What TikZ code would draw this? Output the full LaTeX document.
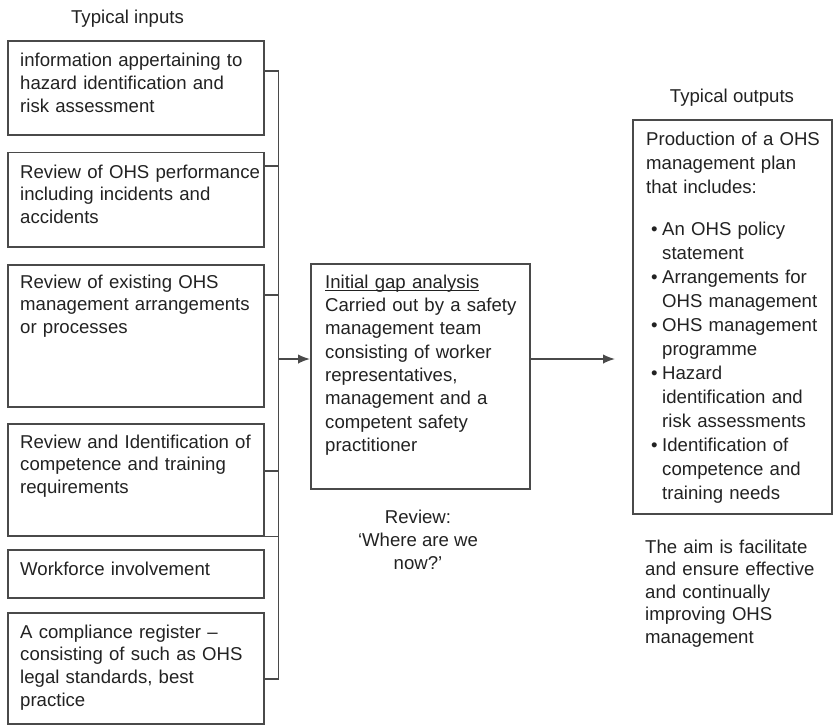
\documentclass[tikz,border=0pt]{standalone}
\usepackage{fontspec}
\setmainfont{Liberation Sans}
\usetikzlibrary{arrows.meta}
\definecolor{ink}{HTML}{222222}
\definecolor{rule}{HTML}{4A4A4A}
% underline set close to the baseline, through the descenders
\newcommand\ulbase[1]{\setbox0\hbox{#1}\rlap{\rule[-2.8pt]{\wd0}{1.1pt}}\box0}
\begin{document}
\begin{tikzpicture}[x=1pt,y=-1pt,
  box/.style={draw=rule, line width=1.6pt, fill=white, anchor=north west, inner sep=0pt, minimum width=256pt},
  wire/.style={draw=rule, line width=1.6pt},
  arr/.style={wire, -{Latex[length=12pt,width=9.5pt]}},
  txt/.style={anchor=north west, inner sep=0pt, align=left, text=ink},
  lefttxt/.style={txt, text width=250pt, font=\fontsize{18.6}{22.8}\selectfont},
  midtxt/.style={txt, text width=210pt, font=\fontsize{18.6}{23.3}\selectfont},
  righttxt/.style={txt, text width=190pt, font=\fontsize{18.6}{24}\selectfont},
  title/.style={anchor=base, inner sep=0pt, text=ink, font=\fontsize{18.6}{22.8}\selectfont}]
\useasboundingbox (0,0) rectangle (834,726);

% column headings
\node[title] (tin) at (127.5,23) {Typical inputs};
\node[title] (tout) at (732,102.7) {Typical outputs};

% input boxes
\node[box, minimum height=94pt]  (b1) at (7,40) {};
\node[box, minimum height=94.5pt] (b2) at (7,151.5) {};
\node[box, minimum height=142pt] (b3) at (7,264) {};
\node[box, minimum height=112pt] (b4) at (7,423) {};
\node[box, minimum height=48pt]  (b5) at (7,549) {};
\node[box, minimum height=111pt] (b6) at (7,612) {};

\node[lefttxt] (t1) at (20,50.7) {\strut information appertaining to\\hazard identification and\\risk assessment};
\node[lefttxt] (t2) at (20,162) {\strut Review of OHS performance\\including incidents and\\accidents};
\node[lefttxt] (t3) at (20,272) {\strut Review of existing OHS\\management arrangements\\or processes};
\node[lefttxt] (t4) at (20,432) {\strut Review and Identification of\\competence and training\\requirements};
\node[lefttxt] (t5) at (20,559) {\strut Workforce involvement};
\node[lefttxt] (t6) at (20,622) {\strut A compliance register –\\consisting of such as OHS\\legal standards, best\\practice};

% collecting bus
\coordinate (bustop) at (278.5,71);
\coordinate (busbot) at (278.5,679);
\coordinate (busmid) at (278.5,359);
\draw[wire] (bustop) -- (busbot);
\draw[wire] ([yshift=-31pt]b1.north east) coordinate (k1) -- (k1 -| bustop);
\draw[wire] ([yshift=-14.5pt]b2.north east) coordinate (k2) -- (k2 -| bustop);
\draw[wire] ([yshift=-31pt]b3.north east) coordinate (k3) -- (k3 -| bustop);
\draw[wire] ([yshift=-48pt]b4.north east) coordinate (k4) -- (k4 -| bustop);
\draw[wire] (b4.south east) -- (b4.south east -| bustop);
\draw[wire] ([yshift=-67pt]b6.north east) coordinate (k6) -- (k6 -| bustop);

% gap analysis box
\node[box, minimum width=219pt, minimum height=225pt] (c) at (310,263) {};
\node[midtxt] (ct) at (325,271.7) {\strut\ulbase{Initial gap analysis}\\Carried out by a safety\\management team\\consisting of worker\\representatives,\\management and a\\competent safety\\practitioner};
\node[anchor=north, inner sep=0pt, align=center, text=ink, font=\fontsize{18.6}{23}\selectfont] (rev) at (418,506.9) {\strut Review:\\‘Where are we\\now?’};

\draw[arr] (busmid) -- (busmid -| c.west);
\coordinate (tipout) at (615,359);
\draw[arr] (c.east |- busmid) -- (tipout);

% outputs box
\node[box, minimum width=199pt, minimum height=394pt] (r) at (632,119) {};
\node[righttxt] (rt) at (646,128.2) {\strut Production of a OHS\\management plan\\that includes:\\[18pt]
\makebox[16pt][l]{\hspace{5pt}•}An OHS policy\\\hspace*{16pt}statement\\
\makebox[16pt][l]{\hspace{5pt}•}Arrangements for\\\hspace*{16pt}OHS management\\
\makebox[16pt][l]{\hspace{5pt}•}OHS management\\\hspace*{16pt}programme\\
\makebox[16pt][l]{\hspace{5pt}•}Hazard\\\hspace*{16pt}identification and\\\hspace*{16pt}risk assessments\\
\makebox[16pt][l]{\hspace{5pt}•}Identification of\\\hspace*{16pt}competence and\\\hspace*{16pt}training needs};

\node[txt, text width=190pt, font=\fontsize{18.6}{22.5}\selectfont] (aim) at (645,537.25) {\strut The aim is facilitate\\and ensure effective\\and continually\\improving OHS\\management};
\end{tikzpicture}
\end{document}
